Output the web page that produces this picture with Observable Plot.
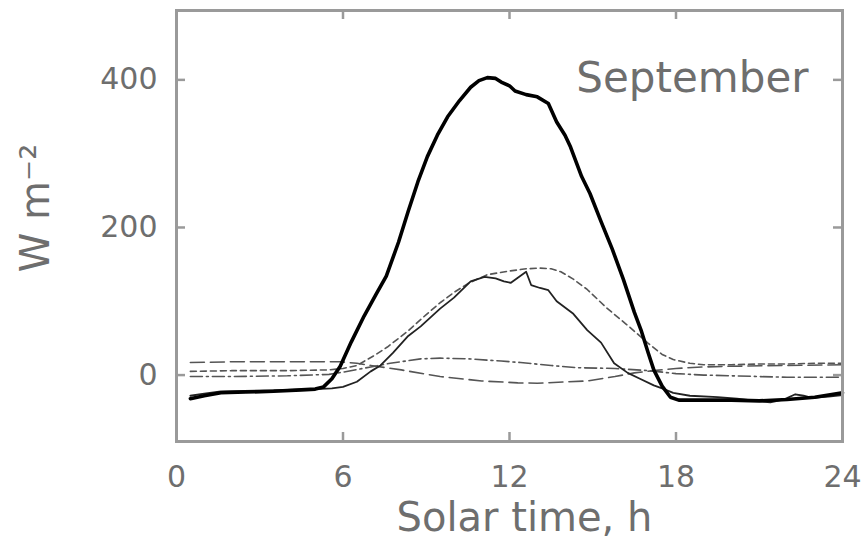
<!DOCTYPE html>
<html><head><meta charset="utf-8">
<script src="https://cdn.jsdelivr.net/npm/d3@7"></script>
<script src="https://cdn.jsdelivr.net/npm/@observablehq/plot@0.6"></script>
<style>body{margin:0;background:#fff}</style>
</head><body><div id="chart"></div>
<script>
// ---- data ----
const xTicks = [0, 6, 12, 18, 24];
const yTicks = [0, 200, 400];

// thick solid line
const netHours  = [0.5,1.0,1.6,2.5,3.5,4.5,5.0,5.3,5.6,5.9,6.3,6.76,7.2,7.56,8.0,8.35,8.7,9.04,9.4,9.77,10.2,10.6,10.9,11.2,11.5,11.7,12.0,12.2,12.6,13.0,13.4,13.7,14.0,14.2,14.6,14.9,15.3,15.7,16.1,16.5,16.74,17.0,17.2,17.5,17.8,18.1,19.0,20.0,21.0,22.0,23.0,23.5,24.0];
const netValues = [-32,-28,-24,-23,-22,-20,-19,-16,-5,12,45,80,110,134,180,222,262,296,325,350,372,390,399,403,402,397,392,385,380,377,368,343,325,309,269,246,208,171,130,85,61,30,7,-15,-30,-34,-34,-34,-35,-33,-30,-27,-24];

// thin solid line
const thinHours  = [0.5,1.0,1.6,3,4,5,5.6,6.0,6.5,7.0,7.35,7.8,8.35,8.8,9.5,10.0,10.6,11.1,11.5,11.8,12.05,12.3,12.6,12.78,13.1,13.4,13.7,14.3,14.8,15.3,15.77,16.26,16.7,17.2,17.5,17.9,18.5,19.5,20.2,20.9,21.4,21.9,22.3,22.6,22.9,23.5,24];
const thinValues = [-28,-25,-22,-21,-20,-19,-18,-16,-9,5,13,30,53,66,90,105,127,133,131,127,125,132,140,122,118,115,100,83,61,44,16,3,-5,-14,-18,-24,-28,-30,-32,-35,-37,-33,-26,-28,-31,-29,-27];

// short-dashed line
const dashHours  = [0.5,2,4,5.5,6.0,6.5,7.15,7.6,8.35,9,9.5,10,10.5,11.2,12,12.6,13.1,13.5,13.85,14.3,14.8,15.5,16.3,17,17.5,17.9,18.5,19,20,21,22,23,24];
const dashValues = [5,6,6,7,9,13,27,38,60,82,98,112,124,136,141,144,145,144,140,130,116,91,66,43,28,21,16,14,14,15,15,16,16];

// long-dashed line
const longHours  = [0.5,2,4,5.9,6.5,7,8.1,9.5,11,12.3,13,14.8,15.8,16.5,17.2,18,19,20,22,24];
const longValues = [17,18,18,18,16,13,7,-2,-8,-10.5,-11,-8,-2,3,6,9,11,12,13,14];

// dash-dot line
const dotHours  = [0.5,2,4,5.5,6,7,7.7,8.8,9.5,10.5,11.7,12.4,13.5,14.45,15.8,17,18,19,20,22,24];
const dotValues = [-2,-2,-1,1,4,11,16,22,23,22,19,17,13,10,9,6,2,0,-1,-3,-3];

const rows = (hs, vs) => hs.map((h, i) => ({h, v: vs[i]}));

// ---- layout / style ----
const FONT = "DejaVu Sans";
const textColor = "#6e6e6e";
const frameColor = "#9a9a9a";
const W = 863, H = 541, mL = 176, mR = 21, mT = 10, mB = 100;
const plotW = W - mL - mR, plotH = H - mT - mB;
const tickLen = 9;

const chart = Plot.plot({
  width: W, height: H,
  marginLeft: mL, marginRight: mR, marginTop: mT, marginBottom: mB,
  style: {fontFamily: FONT, background: "#fff"},
  x: {domain: [0, 24]},
  y: {domain: [-90, 494]},
  marks: [
    Plot.tickX(xTicks, {x: d => d, stroke: frameColor, strokeWidth: 2.5, insetTop: plotH - tickLen}),
    Plot.tickX(xTicks, {x: d => d, stroke: frameColor, strokeWidth: 2.5, insetBottom: plotH - tickLen}),
    Plot.tickY(yTicks, {y: d => d, stroke: frameColor, strokeWidth: 2.5, insetRight: plotW - tickLen}),
    Plot.tickY(yTicks, {y: d => d, stroke: frameColor, strokeWidth: 2.5, insetLeft: plotW - tickLen}),
    Plot.axisX({ticks: xTicks, tickSize: 0, tickPadding: 24, fontSize: 30, color: textColor, label: null}),
    Plot.axisY({ticks: yTicks, tickSize: 0, tickPadding: 19, fontSize: 30, color: textColor, label: null}),
    Plot.line(rows(longHours, longValues), {x: "h", y: "v", stroke: "#555", strokeWidth: 1.6, strokeDasharray: "14,6"}),
    Plot.line(rows(dotHours, dotValues), {x: "h", y: "v", stroke: "#555", strokeWidth: 1.6, strokeDasharray: "12,4,2,4"}),
    Plot.line(rows(dashHours, dashValues), {x: "h", y: "v", stroke: "#555", strokeWidth: 1.6, strokeDasharray: "6,4"}),
    Plot.line(rows(thinHours, thinValues), {x: "h", y: "v", stroke: "#222", strokeWidth: 1.8}),
    Plot.line(rows(netHours, netValues), {x: "h", y: "v", stroke: "#000", strokeWidth: 3.6, strokeLinejoin: "round"}),
    Plot.frame({stroke: frameColor, strokeWidth: 3}),
    Plot.text(["September"], {frameAnchor: "top-right", dx: -34, dy: 52, fontSize: 42, fill: textColor, textAnchor: "end", lineAnchor: "top"}),
    Plot.text(["Solar time, h"], {frameAnchor: "bottom", dx: 15, dy: 61, lineAnchor: "top", fontSize: 40, fill: textColor}),
    Plot.text(["W m\u207B\u00B2"], {frameAnchor: "left", rotate: -90, dx: -156, dy: -18, lineAnchor: "top", textAnchor: "middle", fontSize: 40, fill: textColor})
  ]
});
document.getElementById("chart").appendChild(chart);
</script>
</body></html>
